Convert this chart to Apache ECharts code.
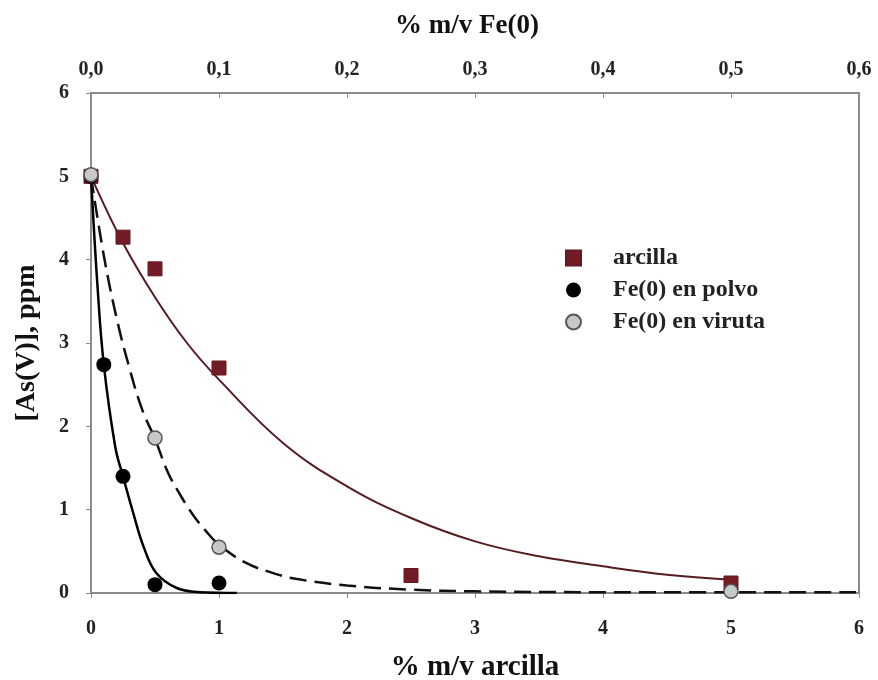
<!DOCTYPE html>
<html>
<head>
<meta charset="utf-8">
<script src="https://cdn.jsdelivr.net/npm/echarts@6/dist/echarts.min.js"></script>
<style>
  html, body { margin: 0; padding: 0; background: #fff; }
  #chart { width: 878px; height: 680px; }
</style>
</head>
<body>
<div id="chart"></div>
<script>
// measured points: arcilla on bottom axis (% m/v arcilla), Fe(0) on top axis (% m/v Fe(0))
const arcillaPts = [[0, 5.0], [0.25, 4.27], [0.5, 3.89], [1, 2.7], [2.5, 0.21], [5, 0.12]];
const polvoPts = [[0, 5.0], [0.01, 2.74], [0.025, 1.4], [0.05, 0.1], [0.1, 0.12]];
const virutaPts = [[0, 5.02], [0.05, 1.86], [0.1, 0.55], [0.5, 0.02]];

// fitted curves
const arcillaFit = [[0, 5.0], [0.25, 4.2], [0.5, 3.55], [0.75, 3.0], [1, 2.56], [1.5, 1.8], [2, 1.28],
  [2.5, 0.9], [3, 0.62], [3.5, 0.44], [4, 0.32], [4.5, 0.22], [5, 0.16]];
const polvoFit = [[0, 5.0], [0.005, 3.7], [0.01, 2.74], [0.019, 1.75], [0.025, 1.4], [0.033, 0.96],
  [0.041, 0.56], [0.051, 0.24], [0.067, 0.06], [0.085, 0.01], [0.114, 0]];
const virutaFit = [[0, 5.0], [0.01, 4.05], [0.02, 3.3], [0.03, 2.7], [0.04, 2.2], [0.05, 1.85],
  [0.06, 1.45], [0.07, 1.17], [0.08, 0.93], [0.09, 0.74], [0.1, 0.58], [0.12, 0.37], [0.14, 0.25],
  [0.16, 0.17], [0.2, 0.09], [0.25, 0.04], [0.3, 0.02], [0.4, 0.01], [0.6, 0.01]];

const font = 'Liberation Serif';
const axisColor = '#8a8a8a';

const chart = echarts.init(document.getElementById('chart'));

const labelStyle = { fontFamily: font, fontWeight: 'bold', fontSize: 20, color: '#222' };
const nameStyle = { fontFamily: font, fontWeight: 'bold', color: '#111' };

chart.setOption({
  animation: false,
  grid: { left: 91, right: 19, top: 93, bottom: 87, outerBoundsMode: 'none' },
  legend: {
    orient: 'vertical',
    left: 560,
    top: 241,
    itemGap: 8,
    itemWidth: 15,
    itemHeight: 15,
    data: ['arcilla', 'Fe(0) en polvo', 'Fe(0) en viruta'],
    textStyle: { fontFamily: font, fontWeight: 'bold', fontSize: 24, color: '#222', padding: [0, 0, 0, 27] }
  },
  xAxis: [
    {
      type: 'value', position: 'bottom', min: 0, max: 6, interval: 1,
      name: '% m/v arcilla', nameLocation: 'middle', nameGap: 60,
      nameTextStyle: Object.assign({ fontSize: 29 }, nameStyle),
      axisLine: { show: true, onZero: false, lineStyle: { color: axisColor, width: 2 } },
      axisTick: { show: true, length: 5, lineStyle: { color: axisColor } },
      axisLabel: Object.assign({ margin: 26 }, labelStyle),
      splitLine: { show: false }
    },
    {
      type: 'value', position: 'top', min: 0, max: 0.6, interval: 0.1,
      name: '% m/v Fe(0)', nameLocation: 'middle', nameGap: 53,
      nameTextStyle: Object.assign({ fontSize: 27, padding: [0, 16, 0, 0] }, nameStyle),
      axisLine: { show: true, onZero: false, lineStyle: { color: axisColor, width: 2 } },
      axisTick: { show: true, inside: true, length: 5, lineStyle: { color: axisColor } },
      axisLabel: Object.assign({ margin: 13, formatter: v => v.toFixed(1).replace('.', ',') }, labelStyle),
      splitLine: { show: false }
    }
  ],
  yAxis: [
    {
      type: 'value', position: 'left', min: 0, max: 6, interval: 1,
      name: '[As(V)], ppm', nameLocation: 'middle', nameGap: 50,
      nameTextStyle: Object.assign({ fontSize: 28 }, nameStyle),
      axisLine: { show: true, onZero: false, lineStyle: { color: axisColor, width: 2 } },
      axisTick: { show: true, length: 5, lineStyle: { color: axisColor } },
      axisLabel: Object.assign({ margin: 22 }, labelStyle),
      splitLine: { show: false }
    },
    {
      type: 'value', position: 'right', min: 0, max: 6, interval: 1,
      axisLine: { show: true, onZero: false, lineStyle: { color: axisColor, width: 2 } },
      axisTick: { show: false }, axisLabel: { show: false }, splitLine: { show: false }
    }
  ],
  series: [
    {
      name: 'arcilla fit', type: 'line', xAxisIndex: 0, data: arcillaFit,
      smooth: 0.4, showSymbol: false, z: 2,
      lineStyle: { color: '#561c20', width: 2 }
    },
    {
      name: 'polvo fit', type: 'line', xAxisIndex: 1, data: polvoFit,
      smooth: 0.4, showSymbol: false, z: 2,
      lineStyle: { color: '#000', width: 2.5 }
    },
    {
      name: 'viruta fit', type: 'line', xAxisIndex: 1, data: virutaFit,
      smooth: 0.4, showSymbol: false, z: 2,
      lineStyle: { color: '#111', width: 2.5, type: [17, 8] }
    },
    {
      name: 'arcilla', type: 'scatter', xAxisIndex: 0, data: arcillaPts,
      symbol: 'rect', symbolSize: 14, z: 4,
      itemStyle: { color: '#741c26', borderColor: '#641822', borderWidth: 1, opacity: 1 }
    },
    {
      name: 'Fe(0) en polvo', type: 'scatter', xAxisIndex: 1, data: polvoPts,
      symbol: 'circle', symbolSize: 15, z: 5,
      itemStyle: { color: '#000', opacity: 1 }
    },
    {
      name: 'Fe(0) en viruta', type: 'scatter', xAxisIndex: 1, data: virutaPts,
      symbol: 'circle', symbolSize: 14, z: 6,
      itemStyle: { color: '#c8c8c8', borderColor: '#555', borderWidth: 1.5, opacity: 1 }
    }
  ]
});
</script>
</body>
</html>
